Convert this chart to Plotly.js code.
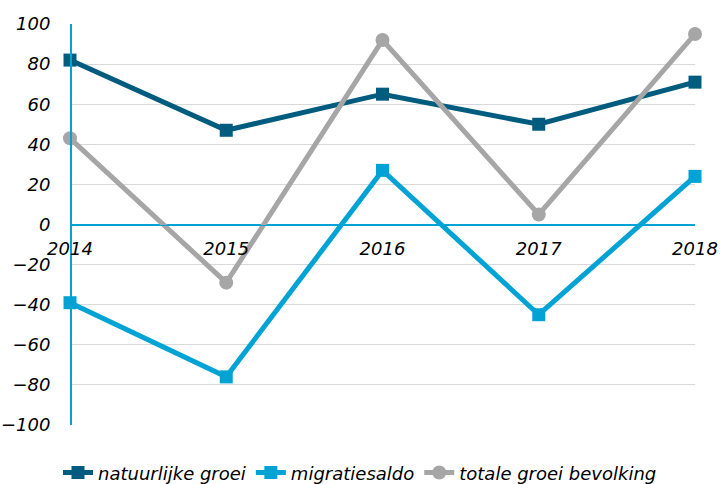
<!DOCTYPE html>
<html>
<head>
<meta charset="utf-8">
<script src="https://cdn.plot.ly/plotly-3.0.1.min.js"></script>
<style>html,body{margin:0;padding:0;background:#fff;}#chart{width:720px;height:484px;}</style>
</head>
<body>
<div id="chart"></div>
<script>
const years = ['2014', '2015', '2016', '2017', '2018'];
const natuurlijkeGroei = [82, 47, 65, 50, 71];
const migratiesaldo = [-39, -76, 27, -45, 24];
const totaleGroei = [43, -29, 92, 5, 95];
const yTicks = [-100, -80, -60, -40, -20, 0, 20, 40, 60, 80, 100];

const fontFam = 'DejaVu Sans, Verdana, sans-serif';

const traces = [
  {x: years, y: natuurlijkeGroei, name: 'natuurlijke groei', type: 'scatter', mode: 'lines+markers',
   line: {color: '#005C7F', width: 5}, marker: {symbol: 'square', size: 13, color: '#005C7F'}, cliponaxis: false},
  {x: years, y: migratiesaldo, name: 'migratiesaldo', type: 'scatter', mode: 'lines+markers',
   line: {color: '#00A3D4', width: 5}, marker: {symbol: 'square', size: 13, color: '#00A3D4'}, cliponaxis: false},
  {x: years, y: totaleGroei, name: 'totale groei bevolking', type: 'scatter', mode: 'lines+markers',
   line: {color: '#A6A6A6', width: 5}, marker: {symbol: 'circle', size: 14, color: '#A6A6A6'}, cliponaxis: false}
];

const layout = {
  width: 720, height: 484,
  margin: {l: 70, r: 25, t: 24, b: 59, autoexpand: false},
  paper_bgcolor: '#fff', plot_bgcolor: '#fff',
  font: {family: fontFam, color: '#000'},
  showlegend: true,
  legend: {orientation: 'h', x: 0.5, xanchor: 'center', xref: 'container', yref: 'container',
           y: 0.023, yanchor: 'middle',
           font: {size: 18, style: 'italic', family: fontFam}, itemwidth: 30, tracegroupgap: 0},
  xaxis: {type: 'category', range: [0, 4], anchor: 'free', position: 0.5,
          showline: true, linecolor: '#00A3D4', linewidth: 1, showgrid: false, zeroline: false,
          ticks: '', tickfont: {size: 18, style: 'italic', family: fontFam}, ticklabelstandoff: 8},
  yaxis: {range: [-100, 100], tickvals: yTicks, anchor: 'free', position: 0,
          showgrid: true, gridcolor: '#D9D9D9', gridwidth: 1,
          zeroline: true, zerolinecolor: '#00A3D4', zerolinewidth: 1,
          showline: true, linecolor: '#00A3D4', linewidth: 1.5, ticks: '',
          tickfont: {size: 18, style: 'italic', family: fontFam}, ticklabelstandoff: 16}
};

Plotly.newPlot('chart', traces, layout, {displayModeBar: false, staticPlot: true});
</script>
</body>
</html>
